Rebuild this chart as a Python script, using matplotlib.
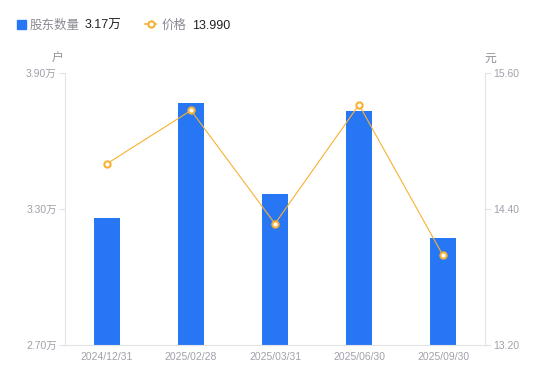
import matplotlib.pyplot as plt

plt.rcParams['font.family'] = ['Liberation Sans', 'Noto Sans CJK SC']

dates = ['2024/12/31', '2025/02/28', '2025/03/31', '2025/06/30', '2025/09/30']
holders = [3.26, 3.768, 3.366, 3.732, 3.17]  # 万户
price = [14.80, 15.27, 14.27, 15.32, 13.99]

bar_color = '#2777F5'
line_color = '#F8B133'
axis_color = '#E3E3E6'
tick_color = '#A0A0AB'

fig = plt.figure(figsize=(5.5, 3.81), dpi=100)
ax = fig.add_axes([65 / 550, 36 / 381, 420 / 550, 272 / 381])
ax2 = ax.twinx()

x = list(range(len(dates)))
ax.bar(x, holders, width=0.3, color=bar_color, zorder=2)
ax.set_ylim(2.70, 3.90)
ax.set_xlim(-0.5, 4.5)
ax.set_yticks([2.70, 3.30, 3.90])
ax.set_yticklabels(['2.70万', '3.30万', '3.90万'])
ax.set_xticks(x)
ax.set_xticklabels(dates)

ax2.plot(x, price, color=line_color, lw=0.8, marker='o', ms=4.5,
         mfc='white', mec=line_color, mew=1.5, zorder=3)
ax2.set_ylim(13.20, 15.60)
ax2.set_yticks([13.20, 14.40, 15.60])
ax2.set_yticklabels(['13.20', '14.40', '15.60'])

for a in (ax, ax2):
    for s in a.spines.values():
        s.set_visible(False)
    a.tick_params(axis='y', colors=axis_color, labelcolor=tick_color,
                  labelsize=7.5, length=4, width=0.8, pad=2)
ax.spines['left'].set_visible(True)
ax.spines['left'].set_color(axis_color)
ax.spines['bottom'].set_visible(True)
ax.spines['bottom'].set_color(axis_color)
ax2.spines['right'].set_visible(True)
ax2.spines['right'].set_color(axis_color)
ax.tick_params(axis='x', length=0, labelcolor=tick_color, labelsize=7.5, pad=5)

fig.text(58 / 550, 1 - 59 / 381, '户', ha='center', va='center',
         fontsize=8.5, color='#909099')
fig.text(490 / 550, 1 - 59 / 381, '元', ha='center', va='center',
         fontsize=8.5, color='#909099')

# legend
ly = 1 - 24 / 381
ty = 1 - 26 / 381
fig.patches.append(plt.Rectangle((17 / 550, 1 - 29 / 381), 9 / 550, 9 / 381,
                                 transform=fig.transFigure, color=bar_color,
                                 figure=fig))
fig.text(30 / 550, ty, '股东数量', ha='left', va='center', fontsize=9, color='#8A8A94')
fig.text(85 / 550, ty, '3.17万', ha='left', va='center', fontsize=9, color='#222222')
fig.lines.append(plt.Line2D([145 / 550, 156 / 550], [ly, ly], transform=fig.transFigure,
                            color=line_color, lw=1.2, zorder=1))
fig.lines.append(plt.Line2D([150.5 / 550], [ly], transform=fig.transFigure,
                            color=line_color, marker='o', ms=4.5, mfc='white',
                            mec=line_color, mew=1.5, lw=0))
fig.text(162 / 550, ty, '价格', ha='left', va='center', fontsize=9, color='#8A8A94')
fig.text(192 / 550, ty, '13.990', ha='left', va='center', fontsize=9, color='#222222')

fig.savefig('out.png', dpi=100)
